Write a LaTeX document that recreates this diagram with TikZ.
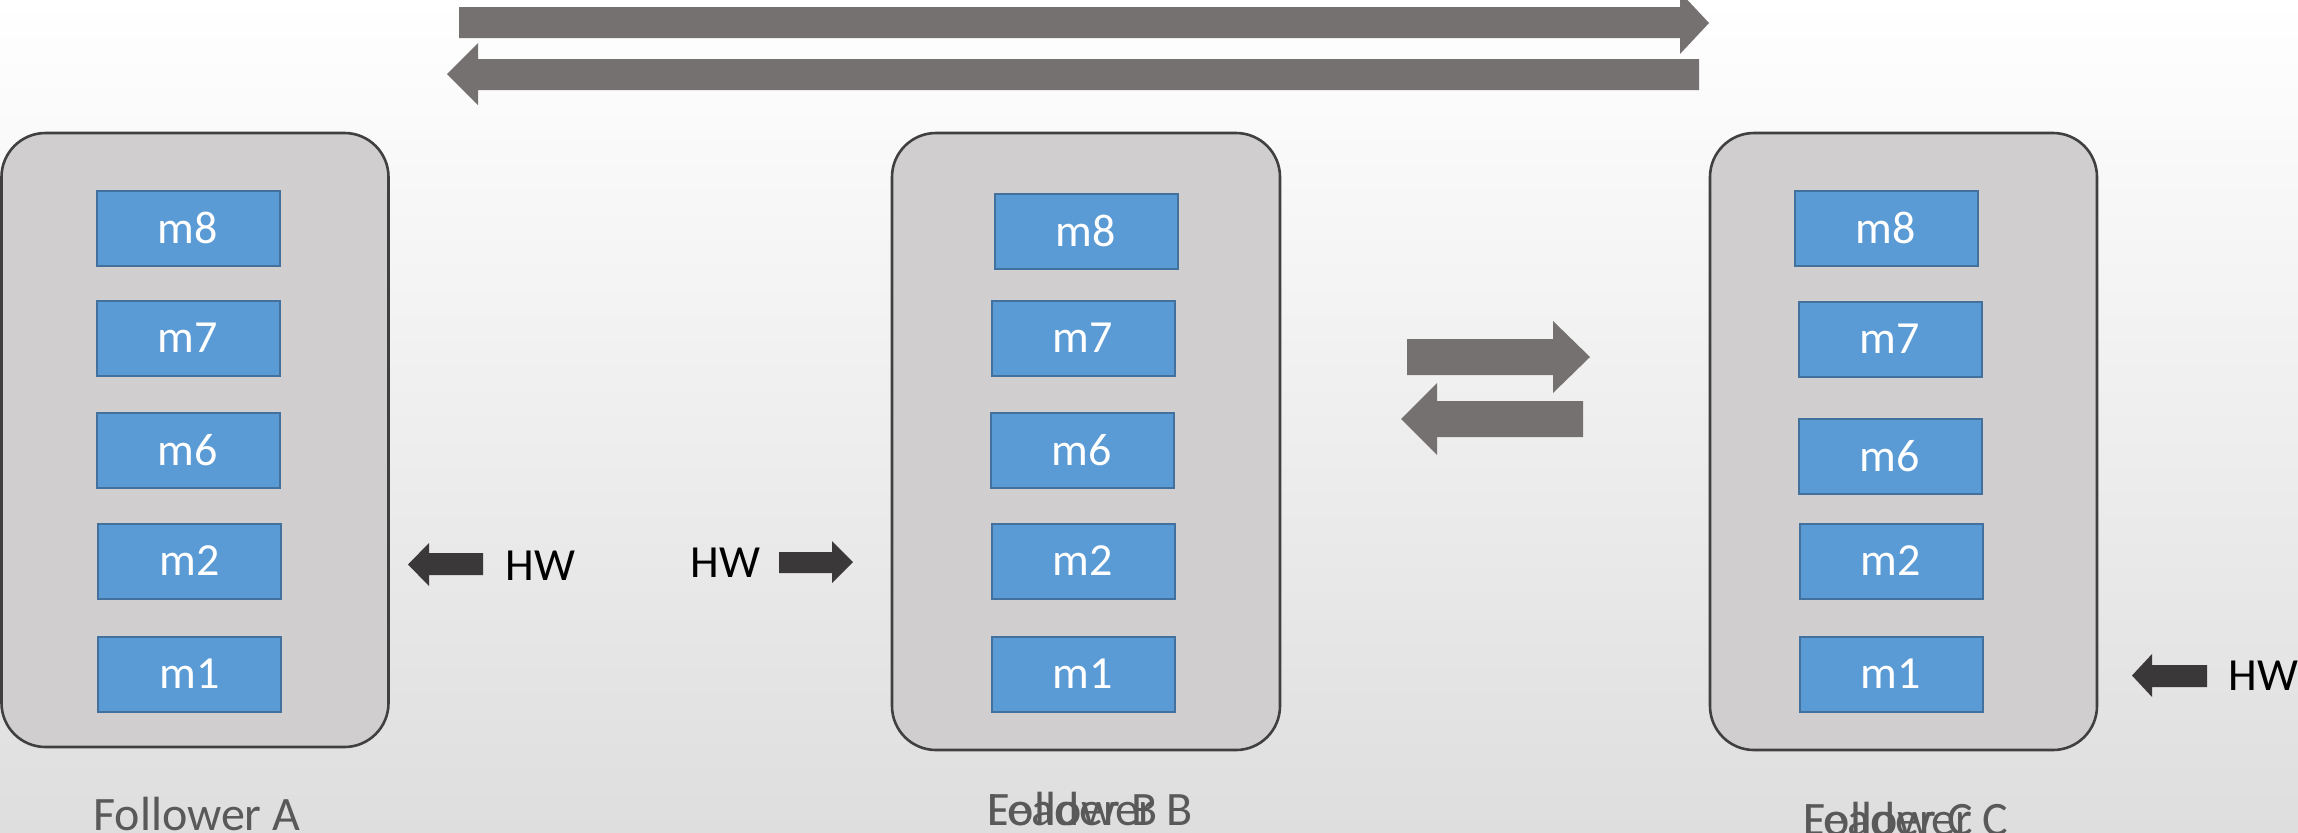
\documentclass[tikz,border=0pt]{standalone}
\usepackage{fontspec}
\setmainfont{Carlito}
\definecolor{bgbot}{HTML}{DEDEDE}
\definecolor{boxfill}{HTML}{D0CECE}
\definecolor{boxline}{HTML}{404040}
\definecolor{mblue}{HTML}{5B9BD5}
\definecolor{mblueline}{HTML}{41719C}
\definecolor{bigarrow}{HTML}{767171}
\definecolor{hwarrow}{HTML}{3A3838}
\definecolor{labelgray}{HTML}{595959}
\begin{document}
\begin{tikzpicture}[x=0.5pt,y=-0.5pt,
  graybox/.style={draw=boxline,fill=boxfill,line width=1.3pt,rounded corners=22pt,inner sep=0pt},
  msgbox/.style={draw=mblueline,fill=mblue,line width=1pt,minimum width=91.5pt,minimum height=37.5pt,inner sep=0pt,text=white,font=\fontsize{23}{27}\selectfont},
  hwtext/.style={anchor=base west,inner sep=0pt,text=black,font=\fontsize{23}{27}\selectfont},
  lbl/.style={anchor=base west,inner sep=0pt,text=labelgray,font=\fontsize{24}{28}\selectfont},
  bigarr/.style={fill=bigarrow},
  hwarr/.style={fill=hwarrow}]
\useasboundingbox (0,0) rectangle (2298,832);
\clip (0,0) rectangle (2298,832);
\shade[top color=white,bottom color=bgbot] (0,0) rectangle (2298,832);

% top long arrows
\fill[bigarr] (459,7) -- (1680,7) -- (1680,-8) -- (1709,23) -- (1680,54) -- (1680,38) -- (459,38) -- cycle;
\fill[bigarr] (1699,59) -- (478,59) -- (478,43) -- (447,74) -- (478,105) -- (478,90) -- (1699,90) -- cycle;

% middle arrows
\fill[bigarr] (1407,339) -- (1553,339) -- (1553,321) -- (1590,357) -- (1553,393) -- (1553,375) -- (1407,375) -- cycle;
\fill[bigarr] (1583,401) -- (1437,401) -- (1437,383) -- (1401,419) -- (1437,455) -- (1437,437) -- (1583,437) -- cycle;

% gray boxes
\node[graybox,minimum width=193.5pt,minimum height=307pt] (boxA) at (195,440) {};
\node[graybox,minimum width=194pt,minimum height=308.5pt] (boxB) at (1086,441.5) {};
\node[graybox,minimum width=193.5pt,minimum height=308.5pt] (boxC) at (1903.5,441.5) {};

% messages A
\node[msgbox] (a8) at (188,228) {m8};
\node[msgbox] (a7) at (188,338) {m7};
\node[msgbox] (a6) at (188,450) {m6};
\node[msgbox] (a2) at (189.5,561) {m2};
\node[msgbox] (a1) at (189.5,674) {m1};
% messages B
\node[msgbox] (b8) at (1086,231) {m8};
\node[msgbox] (b7) at (1083,338) {m7};
\node[msgbox] (b6) at (1082,450) {m6};
\node[msgbox] (b2) at (1083,561) {m2};
\node[msgbox] (b1) at (1083,674) {m1};
% messages C
\node[msgbox] (c8) at (1886,228) {m8};
\node[msgbox] (c7) at (1890,339) {m7};
\node[msgbox] (c6) at (1890,456) {m6};
\node[msgbox] (c2) at (1891,561) {m2};
\node[msgbox] (c1) at (1891,674) {m1};

% HW markers
\fill[hwarr] (483,553) -- (429,553) -- (429,543) -- (408,564.5) -- (429,586) -- (429,575) -- (483,575) -- cycle;
\node[hwtext] (hwA) at (505,580) {HW};
\node[hwtext] (hwB) at (690,577) {HW};
\fill[hwarr] (779,552) -- (832,552) -- (832,541) -- (853,562) -- (832,583) -- (832,573) -- (779,573) -- cycle;
\fill[hwarr] (2207,665) -- (2152,665) -- (2152,654) -- (2132,675.5) -- (2152,697) -- (2152,687) -- (2207,687) -- cycle;
\node[hwtext] (hwC) at (2228,690) {HW};

% labels
\node[lbl] (labA) at (93,830) {Follower A};
\node[lbl] (labB1) at (987,825) {Follower B};
\node[lbl] (labB2) at (987,825) {Leader B};
\node[lbl] (labC1) at (1803,835) {Follower C};
\node[lbl] (labC2) at (1803,835) {Leader C};
\end{tikzpicture}
\end{document}
